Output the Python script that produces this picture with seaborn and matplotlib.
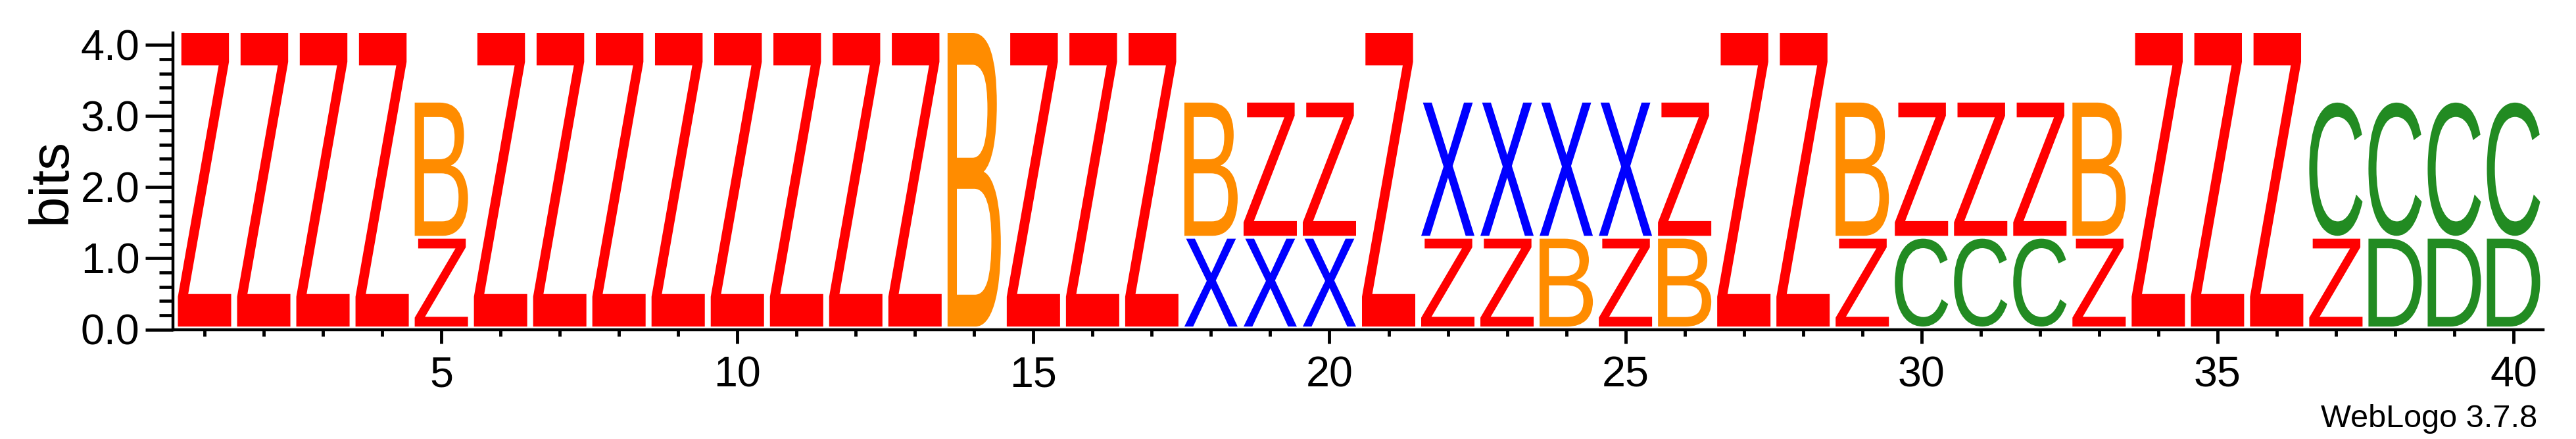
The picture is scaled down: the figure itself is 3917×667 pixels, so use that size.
import matplotlib
matplotlib.use("Agg")
import matplotlib.pyplot as plt
import seaborn as sns
from matplotlib.textpath import TextPath
from matplotlib.patches import PathPatch
from matplotlib.font_manager import FontProperties
from matplotlib.transforms import Affine2D
from matplotlib.ticker import MultipleLocator, FixedLocator, FuncFormatter

# ---------------- data ----------------
positions = list(range(1, 41))
top_letters = list("ZZZZBZZZZZZZZBZZZBZZZXXXXZZZBZZZBZZZCCCC")
bottom_letters = ["", "", "", "", "Z", "", "", "", "", "",
                  "", "", "", "", "", "", "", "X", "X", "X",
                  "", "Z", "Z", "B", "Z", "B", "", "", "Z", "C",
                  "C", "C", "Z", "", "", "", "Z", "D", "D", "D"]
top_freq = [1.0, 1.0, 1.0, 1.0, 0.6, 1.0, 1.0, 1.0, 1.0, 1.0,
            1.0, 1.0, 1.0, 1.0, 1.0, 1.0, 1.0, 0.6, 0.6, 0.6,
            1.0, 0.6, 0.6, 0.6, 0.6, 0.6, 1.0, 1.0, 0.6, 0.6,
            0.6, 0.6, 0.6, 1.0, 1.0, 1.0, 0.6, 0.6, 0.6, 0.6]
bottom_freq = [0.0, 0.0, 0.0, 0.0, 0.4, 0.0, 0.0, 0.0, 0.0, 0.0,
               0.0, 0.0, 0.0, 0.0, 0.0, 0.0, 0.0, 0.4, 0.4, 0.4,
               0.0, 0.4, 0.4, 0.4, 0.4, 0.4, 0.0, 0.0, 0.4, 0.4,
               0.4, 0.4, 0.4, 0.0, 0.0, 0.0, 0.4, 0.4, 0.4, 0.4]
stack_bits = [4.17, 4.17, 4.17, 4.17, 3.19, 4.17, 4.17, 4.17, 4.17, 4.17,
              4.17, 4.17, 4.17, 4.17, 4.17, 4.17, 4.17, 3.19, 3.19, 3.19,
              4.17, 3.19, 3.19, 3.19, 3.19, 3.19, 4.17, 4.17, 3.19, 3.19,
              3.19, 3.19, 3.19, 4.17, 4.17, 4.17, 3.19, 3.19, 3.19, 3.19]
y_ticks = [0.0, 1.0, 2.0, 3.0, 4.0]
x_major = [5, 10, 15, 20, 25, 30, 35, 40]
letter_colors = {"Z": "#FF0000", "B": "#FF8C00", "X": "#0000FF",
                 "C": "#228B22", "D": "#228B22"}

# ---------------- style ----------------
sns.set_theme(style="ticks")
plt.rcParams["font.family"] = ["Liberation Sans", "DejaVu Sans"]

W, H = 3917, 667
AX_L, AX_R, AX_T, AX_B = 266, 3867, 50.0, 500.5
fig = plt.figure(figsize=(W / 100, H / 100), dpi=100)
fig.patch.set_facecolor("white")
ax = fig.add_axes([AX_L / W, 1 - AX_B / H, (AX_R - AX_L) / W, (AX_B - AX_T) / H])
ax.set_facecolor("white")

glyph_font = FontProperties(family="Liberation Sans")


def draw_letter(ch, x, y0, y1, color, width=0.9, pad=0.04):
    tp = TextPath((0, 0), ch, size=1, prop=glyph_font)
    bb = tp.get_extents()
    h = (y1 - y0) - pad
    tr = (Affine2D()
          .translate(-bb.x0, -bb.y0)
          .scale(width / bb.width, h / bb.height)
          .translate(x - width / 2, y0 + pad)) + ax.transData
    ax.add_patch(PathPatch(tp, facecolor=color, edgecolor="none",
                           transform=tr, zorder=3))


for p, tl, bl, tf, bf, bits in zip(positions, top_letters, bottom_letters,
                                    top_freq, bottom_freq, stack_bits):
    base = 0.0
    if bl:
        h = bf * bits
        draw_letter(bl, p, base, base + h, letter_colors[bl])
        base += h
    draw_letter(tl, p, base, base + tf * bits, letter_colors[tl])

ax.set_xlim(0.5, 40.5)
ax.set_ylim(0, 4.17)

sns.despine(ax=ax)
ax.spines["left"].set_position(("outward", 2.5))
for s in ("left", "bottom"):
    ax.spines[s].set_linewidth(3.2)
    ax.spines[s].set_color("black")

ax.yaxis.set_major_locator(FixedLocator(y_ticks))
ax.yaxis.set_minor_locator(MultipleLocator(0.2))
ax.yaxis.set_major_formatter(FuncFormatter(lambda v, _: f"{v:.1f}"))
ax.xaxis.set_major_locator(FixedLocator(x_major))
ax.xaxis.set_minor_locator(MultipleLocator(1))

ax.tick_params(axis="y", which="major", length=30, width=3.4, labelsize=46.5,
               pad=6, color="black", labelcolor="black", direction="out")
ax.tick_params(axis="y", which="minor", length=15, width=3.4,
               color="black", direction="out")
ax.tick_params(axis="x", which="major", length=15, width=3.5, labelsize=46.5,
               pad=14, color="black", labelcolor="black", direction="out")
ax.tick_params(axis="x", which="minor", length=7, width=3.5,
               color="black", direction="out")

ax.set_ylabel("bits", fontsize=60, color="black", va="baseline")
ax.yaxis.set_label_coords((100 - AX_L) / (AX_R - AX_L), 0.5)
ax.set_xlabel("")
ax.grid(False)

fig.text(3858 / W, 1 - 649 / H, "WebLogo 3.7.8", ha="right", va="baseline",
         fontsize=35, color="black")

fig.savefig("out.png", dpi=100, facecolor="white")
